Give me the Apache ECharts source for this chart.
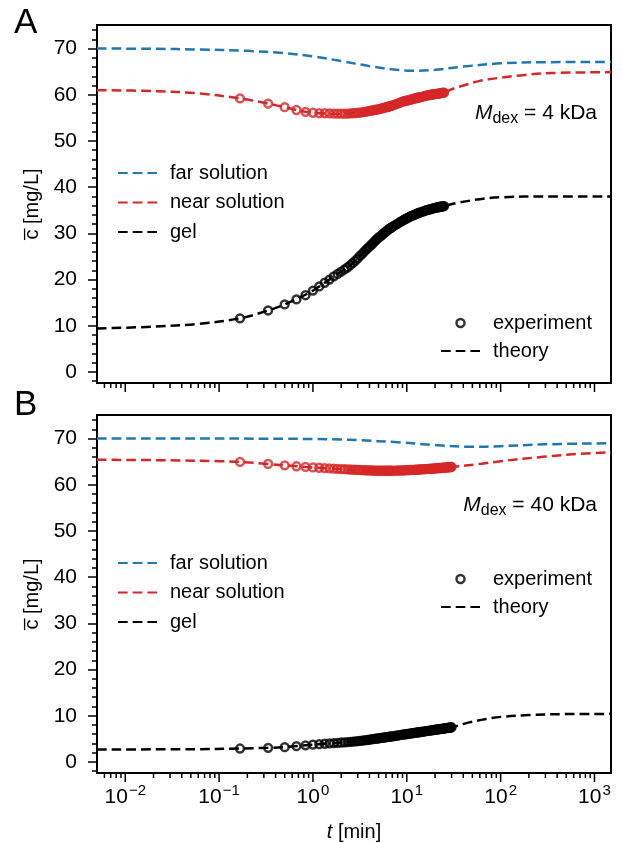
<!DOCTYPE html>
<html><head><meta charset="utf-8">
<script src="https://cdn.jsdelivr.net/npm/echarts@6/dist/echarts.min.js"></script>
<style>html,body{margin:0;padding:0;background:#fff}#c{width:622px;height:843px}</style>
</head><body><div id="c"></div>
<script>
// ---------- data ----------
const expTime = [0.167,0.333,0.5,0.667,0.833,1,1.167,1.333,1.5,1.667,1.833,2,2.167,2.333,2.5,2.667,2.833,3,3.167,3.333,3.5,3.667,3.833,4,4.167,4.333,4.5,4.667,4.833,5,5.167,5.333,5.5,5.667,5.833,6,6.167,6.333,6.5,6.667,6.833,7,
7.333,7.667,8,8.333,8.667,9,9.333,9.667,10,10.333,10.667,11,11.333,11.667,12,12.333,12.667,13,13.333,13.667,14,
14.5,15,15.5,16,16.5,17,17.5,18,18.5,19,19.5,20,20.5,21,21.5,22,22.5,23,23.5,24,24.5,25,
25.5,26,26.5,27,27.5,28,28.5,29,29.5,30];

const nearExpA = [59.2,58.1,57.3,56.7,56.3,56.1,56.0,56.0,55.95,55.9,55.9,55.9,55.9,55.9,55.95,56.0,56.05,56.1,56.15,56.2,56.3,56.35,56.4,56.5,56.55,56.6,56.7,56.75,56.8,56.9,56.95,57.0,57.1,57.15,57.2,57.3,57.35,57.4,57.5,57.55,57.6,57.7,
57.8,57.95,58.1,58.25,58.4,58.5,58.6,58.7,58.75,58.8,58.9,58.95,59.0,59.1,59.15,59.2,59.3,59.35,59.4,59.45,59.5,
59.55,59.65,59.7,59.8,59.85,59.9,59.95,60.0,60.05,60.1,60.1,60.15,60.2,60.2,60.25,60.3,60.3,60.35,60.4,60.4,60.45,60.45];

const gelExpA = [11.6,13.3,14.6,15.7,16.6,17.6,18.5,19.3,20.0,20.7,21.2,21.7,22.2,22.6,23.1,23.6,24.1,24.6,25.1,25.5,26.0,26.4,26.8,27.1,27.5,27.8,28.2,28.5,28.8,29.1,29.3,29.5,29.75,30.0,30.2,30.4,30.6,30.8,30.95,31.1,31.25,31.4,
31.65,31.9,32.1,32.35,32.55,32.75,32.9,33.1,33.25,33.4,33.55,33.7,33.8,33.9,34.0,34.1,34.2,34.3,34.4,34.5,34.55,
34.65,34.75,34.85,34.95,35.05,35.1,35.2,35.25,35.3,35.4,35.45,35.5,35.55,35.6,35.65,35.7,35.75,35.8,35.8,35.85,35.9,35.9];

const nearExpB = [64.95,64.5,64.2,64.0,63.85,63.75,63.68,63.6,63.55,63.5,63.45,63.4,63.37,63.33,63.3,63.27,63.25,63.22,63.2,63.18,63.16,63.14,63.12,63.1,63.09,63.08,63.07,63.06,63.06,63.05,63.05,63.05,63.05,63.05,63.05,63.05,63.05,63.05,63.05,63.05,63.05,63.05,
63.06,63.07,63.08,63.09,63.1,63.11,63.12,63.14,63.15,63.16,63.18,63.19,63.2,63.22,63.23,63.25,63.26,63.28,63.29,63.3,63.32,
63.34,63.36,63.38,63.4,63.42,63.43,63.45,63.47,63.49,63.5,63.52,63.54,63.56,63.58,63.6,63.61,63.63,63.65,63.66,63.68,63.69,63.71,
63.72,63.74,63.75,63.77,63.78,63.8,63.81,63.83,63.84,63.85];

const gelExpB = [2.9,3.05,3.2,3.4,3.6,3.75,3.85,3.93,4.0,4.07,4.13,4.2,4.25,4.3,4.35,4.4,4.45,4.5,4.55,4.6,4.65,4.7,4.78,4.83,4.88,4.93,4.98,5.02,5.07,5.11,5.15,5.19,5.23,5.27,5.31,5.35,5.38,5.42,5.45,5.48,5.51,5.54,
5.6,5.66,5.72,5.78,5.84,5.89,5.94,5.99,6.04,6.08,6.12,6.16,6.2,6.24,6.28,6.32,6.35,6.39,6.42,6.45,6.48,
6.53,6.57,6.62,6.66,6.7,6.74,6.78,6.82,6.85,6.89,6.93,6.96,6.99,7.02,7.05,7.08,7.11,7.14,7.17,7.2,7.22,7.25,
7.28,7.3,7.33,7.35,7.38,7.4,7.43,7.45,7.47,7.5];

// theory curves: [t (min), c (mg/L)]
const farTheoryA = [[0.005,70.0],[0.02,69.95],[0.06,69.8],[0.2,69.5],[0.5,69.0],[1,68.3],[2,67.3],[4,66.2],[7,65.5],[12,65.2],[20,65.4],[40,66.1],[100,66.8],[300,67.05],[1500,67.1]];
const nearTheoryA = [[0.005,61.0],[0.02,60.8],[0.06,60.3],[0.167,59.2],[0.333,58.1],[0.5,57.3],[1,56.1],[2,55.9],[4,56.5],[8,58.1],[15,59.6],[25,60.45],[30,61.2],[40,62.0],[60,63.0],[100,63.7],[180,64.3],[350,64.7],[1500,64.9]];
const gelTheoryA = [[0.005,9.4],[0.02,9.8],[0.06,10.4],[0.167,11.6],[0.333,13.3],[0.5,14.6],[1,17.6],[1.67,20.7],[2.5,23.1],[3.8,26.7],[5.7,30.0],[8.6,32.5],[13,34.3],[25,35.9],[35,36.6],[60,37.4],[100,37.8],[300,38.0],[1500,38.0]];
const farTheoryB = [[0.005,70.0],[0.1,70.0],[0.5,69.95],[1,69.9],[2,69.8],[3,69.65],[8,69.2],[20,68.6],[50,68.2],[100,68.35],[300,68.75],[1500,69.0]];
const nearTheoryB = [[0.005,65.4],[0.03,65.3],[0.1,65.1],[0.167,64.95],[0.333,64.5],[0.5,64.2],[1,63.75],[2,63.4],[4,63.1],[8,63.1],[15,63.35],[30,63.85],[60,64.5],[100,65.1],[300,66.1],[700,66.7],[1500,67.0]];
const gelTheoryB = [[0.005,2.7],[0.05,2.75],[0.167,2.9],[0.333,3.05],[0.5,3.2],[1,3.75],[2,4.2],[4,4.83],[8,5.72],[15,6.57],[30,7.5],[45,8.5],[70,9.3],[100,9.75],[200,10.15],[500,10.35],[1500,10.4]];

// axes / ticks
const xRange = [0.005, 1500];
const yRange = [-2.4, 75.1];
const xMajorTicks = [0.01,0.1,1,10,100,1000];
const xMinorTicks = [0.006,0.007,0.008,0.009,0.02,0.03,0.04,0.05,0.06,0.07,0.08,0.09,0.2,0.3,0.4,0.5,0.6,0.7,0.8,0.9,2,3,4,5,6,7,8,9,20,30,40,50,60,70,80,90,200,300,400,500,600,700,800,900];
const yMajorTicks = [0,10,20,30,40,50,60,70];
const yMinorTicks = [-2,2,4,6,8,12,14,16,18,22,24,26,28,32,34,36,38,42,44,46,48,52,54,56,58,62,64,66,68,72,74];
const panelLabels = ['A','B'];
const massLabels = ['4 kDa','40 kDa'];

// ---------- styling ----------
const FONT = 'Liberation Sans';
const BLUE = '#1f77b4', RED = '#d62728', BLACK = '#000000';
const DASH = [9.7, 5];
const LW = 2.5;
const MS = 7.8, MBW = 2.5;
const gridBoxes = [{left:97, top:25, width:514, height:358}, {left:97, top:415, width:514, height:358}];

const chart = echarts.init(document.getElementById('c'), null, {renderer:'canvas'});

const grid = [], xAxis = [], yAxis = [], series = [];
const panels = [
  {far: farTheoryA, near: nearTheoryA, gel: gelTheoryA, nearExp: nearExpA, gelExp: gelExpA},
  {far: farTheoryB, near: nearTheoryB, gel: gelTheoryB, nearExp: nearExpB, gelExp: gelExpB}
];

function tickRenderer(len) {
  return function (params, api) {
    const p = api.coord([api.value(0), api.value(1)]);
    return {type:'line', shape:{x1:p[0], y1:p[1], x2:p[0], y2:p[1] + len},
            style:{stroke:BLACK, lineWidth:1.5}};
  };
}

panels.forEach((P, i) => {
  grid.push(Object.assign({show:true, borderColor:BLACK, borderWidth:2, backgroundColor:'transparent', containLabel:false}, gridBoxes[i]));
  xAxis.push({
    gridIndex:i, type:'log', logBase:10, min:xRange[0], max:xRange[1],
    axisLine:{show:false}, axisTick:{show:false}, splitLine:{show:false}, minorTick:{show:false},
    axisLabel: i === 1 ? {
      show:true, margin:10, color:BLACK, fontFamily:FONT, fontSize:21,
      formatter: function (v) {
        const e = Math.log10(v);
        if (Math.abs(e - Math.round(e)) > 1e-6) return '';
        const n = Math.round(e);
        return '{b|10}{s|' + (n < 0 ? '\u2212' + (-n) : n) + '}';
      },
      rich: {b:{fontSize:21, fontFamily:FONT, color:BLACK}, s:{fontSize:15, fontFamily:FONT, color:BLACK, padding:[0,0,14,1]}}
    } : {show:false},
    name: i === 1 ? '{i|t} [min]' : '',
    nameLocation:'middle', nameGap:49,
    nameTextStyle:{fontSize:20, color:BLACK, fontFamily:FONT, rich:{i:{fontStyle:'italic', fontSize:20, fontFamily:FONT, color:BLACK}}}
  });
  yAxis.push({
    gridIndex:i, type:'value', position:'left', min:yRange[0], max:yRange[1],
    axisLine:{show:false}, splitLine:{show:false},
    axisTick:{show:true, length:9, customValues:yMajorTicks, lineStyle:{color:BLACK, width:1.5}},
    axisLabel:{show:true, customValues:yMajorTicks, fontSize:21, color:BLACK, fontFamily:FONT, margin:20},
    name:'c\u0305 [mg/L]', nameLocation:'middle', nameGap:55, nameRotate:90,
    nameTextStyle:{fontSize:20, color:BLACK, fontFamily:FONT}
  });
  yAxis.push({
    gridIndex:i, type:'value', position:'left', offset:0, min:yRange[0], max:yRange[1],
    axisLine:{show:false}, splitLine:{show:false},
    axisTick:{show:true, length:5, customValues:yMinorTicks, lineStyle:{color:BLACK, width:1.5}},
    axisLabel:{show:false}
  });
  const yi = 2 * i;
  const lineBase = {type:'line', xAxisIndex:i, yAxisIndex:yi, symbol:'none', smooth:0.35, z:2, silent:true, animation:false};
  series.push(Object.assign({}, lineBase, {name:'far solution', data:P.far, color:BLUE, lineStyle:{color:BLUE, width:LW, type:DASH}}));
  series.push(Object.assign({}, lineBase, {name:'near solution', data:P.near, color:RED, lineStyle:{color:RED, width:LW, type:DASH}}));
  series.push(Object.assign({}, lineBase, {name:'gel', data:P.gel, color:BLACK, lineStyle:{color:BLACK, width:LW, type:DASH}}));
  const scBase = {type:'scatter', xAxisIndex:i, yAxisIndex:yi, symbol:'circle', symbolSize:MS, z:3, silent:true, animation:false};
  series.push(Object.assign({}, scBase, {name:'near exp ' + i, data:P.nearExp.map((c, k) => [expTime[k], c]),
    itemStyle:{color:'transparent', borderColor:RED, borderWidth:MBW}}));
  series.push(Object.assign({}, scBase, {name:'gel exp ' + i, data:P.gelExp.map((c, k) => [expTime[k], c]),
    itemStyle:{color:'transparent', borderColor:BLACK, borderWidth:MBW}}));
  series.push({type:'custom', name:'xmaj' + i, xAxisIndex:i, yAxisIndex:yi, clip:false, silent:true, animation:false, z:4,
    renderItem: tickRenderer(9), data: xMajorTicks.map(t => [t, yRange[0]])});
  series.push({type:'custom', name:'xmin' + i, xAxisIndex:i, yAxisIndex:yi, clip:false, silent:true, animation:false, z:4,
    renderItem: tickRenderer(5), data: xMinorTicks.map(t => [t, yRange[0]])});
});
// legend-only entries
series.push({type:'scatter', name:'experiment', xAxisIndex:0, yAxisIndex:0, data:[], symbol:'circle', symbolSize:MS,
  itemStyle:{color:'transparent', borderColor:BLACK, borderWidth:MBW}});
series.push({type:'line', name:'theory', xAxisIndex:0, yAxisIndex:0, data:[], symbol:'none', color:BLACK,
  lineStyle:{color:BLACK, width:LW, type:DASH}});

const legText = {fontSize:20, color:BLACK, fontFamily:FONT, lineHeight:20, padding:[0,0,0,8]};
const lineItem = name => ({name:name, itemStyle:{opacity:0}});
function leg(left, top, gap, items, ih) {
  return {orient:'vertical', left:left, top:top, padding:0, itemGap:gap, itemWidth:39, itemHeight:ih,
    selectedMode:false, data:items, textStyle:legText, inactiveColor:BLACK};
}
const leftItems = () => [lineItem('far solution'), lineItem('near solution'), lineItem('gel')];
const rightItems = () => [{name:'experiment', itemStyle:{color:'transparent', borderColor:BLACK, borderWidth:MBW}}, lineItem('theory')];
const legend = [
  leg(117, 163, 9.5, leftItems(), 14),
  leg(440, 313, 8, rightItems(), 8),
  leg(117, 553, 9.5, leftItems(), 14),
  leg(440, 569, 8, rightItems(), 8)
];

const graphic = [
  {type:'text', x:14, y:23, style:{text:panelLabels[0], fontSize:35, fontFamily:FONT, fill:BLACK, align:'left', verticalAlign:'middle'}},
  {type:'text', x:14, y:405, style:{text:panelLabels[1], fontSize:35, fontFamily:FONT, fill:BLACK, align:'left', verticalAlign:'middle'}}
];
[113, 505].forEach((y, i) => {
  graphic.push({type:'text', x:597, y:y, style:{
    text:'{i|M}{s|dex}{n| = ' + massLabels[i] + '}', align:'right', verticalAlign:'middle',
    rich:{i:{fontStyle:'italic', fontSize:21, fontFamily:FONT, color:BLACK},
          s:{fontSize:16, fontFamily:FONT, color:BLACK, padding:[12,0,0,0]},
          n:{fontSize:21, fontFamily:FONT, color:BLACK}}}});
});

chart.setOption({
  animation:false,
  backgroundColor:'#ffffff',
  textStyle:{fontFamily:FONT},
  grid, xAxis, yAxis, series, legend, graphic
});
</script></body></html>
